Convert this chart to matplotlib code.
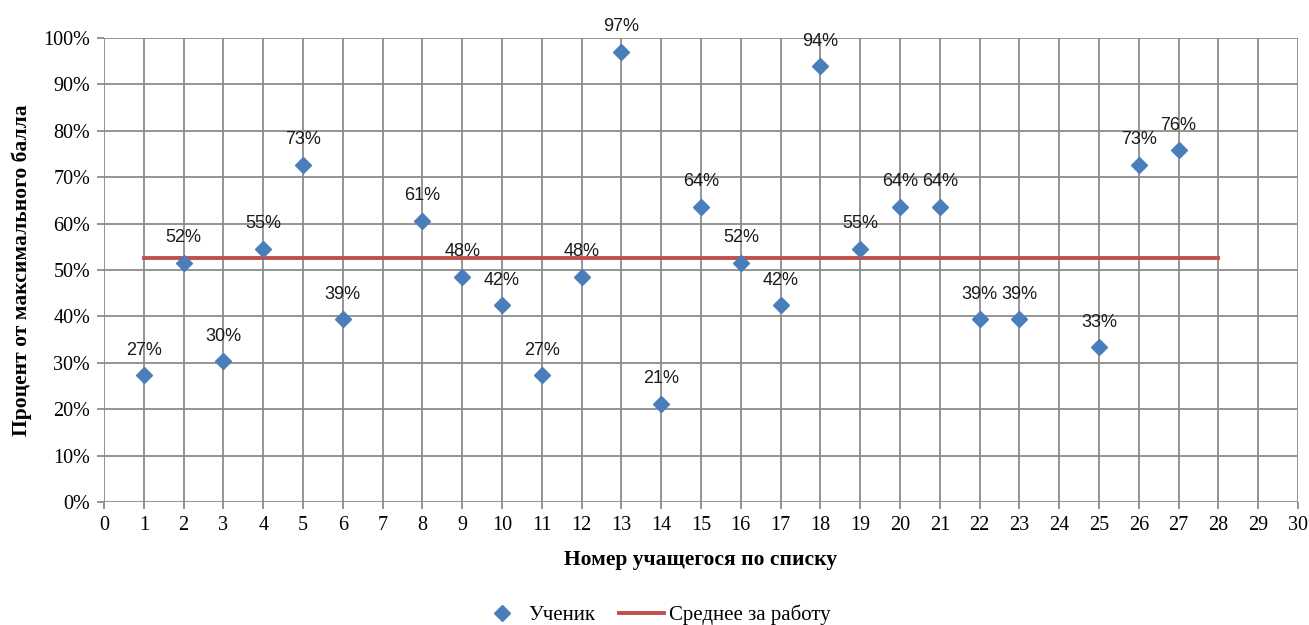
import matplotlib

matplotlib.use("Agg")
import matplotlib.pyplot as plt
from matplotlib.lines import Line2D
from matplotlib.ticker import MultipleLocator, PercentFormatter

# student numbers and share of the max score
students = [1, 2, 3, 4, 5, 6, 8, 9, 10, 11, 12, 13, 14, 15, 16, 17, 18, 19, 20, 21, 22, 23, 25, 26, 27]
scores = [0.273, 0.515, 0.303, 0.545, 0.727, 0.394, 0.606, 0.485, 0.424, 0.273, 0.485, 0.970, 0.212,
          0.636, 0.515, 0.424, 0.939, 0.545, 0.636, 0.636, 0.394, 0.394, 0.333, 0.727, 0.758]
labels = ["27%", "52%", "30%", "55%", "73%", "39%", "61%", "48%", "42%", "27%", "48%", "97%", "21%",
          "64%", "52%", "42%", "94%", "55%", "64%", "64%", "39%", "39%", "33%", "73%", "76%"]
mean_x = [1, 28]
mean_y = [0.526, 0.526]

BLUE = "#4A7EBB"
RED = "#C0504D"
GRID = "#8C8C8C"
SERIF = "Liberation Serif"
SANS = "Liberation Sans"

fig = plt.figure(figsize=(13.09, 6.25), dpi=100)
ax = fig.add_axes([0.0795, 0.1968, 0.9121, 0.7424])

ax.plot(mean_x, mean_y, color=RED, lw=2.8, zorder=3)
ax.plot(students, scores, linestyle="none", marker="D", ms=8.5, color=BLUE, zorder=4)

for x, y, t in zip(students, scores, labels):
    ax.annotate(t, (x, y), xytext=(0, 12), textcoords="offset points", ha="center", va="bottom",
                fontsize=13, family=SANS, color="#1a1a1a")

ax.set_xlim(0, 30)
ax.set_ylim(0, 1.0)
ax.xaxis.set_major_locator(MultipleLocator(1))
ax.yaxis.set_major_locator(MultipleLocator(0.1))
ax.yaxis.set_major_formatter(PercentFormatter(1.0, decimals=0))
ax.grid(True, color=GRID, lw=1.3)
ax.set_axisbelow(True)
for s in ax.spines.values():
    s.set_visible(False)
ax.tick_params(axis="both", length=5, width=1.3, color=GRID, labelsize=14.5, pad=5)
for lab in ax.get_xticklabels() + ax.get_yticklabels():
    lab.set_family(SERIF)

ax.set_xlabel("Номер учащегося по списку", fontsize=15.5, fontweight="bold", family=SERIF, labelpad=11)
ax.set_ylabel("Процент от максимального балла", fontsize=15.5, fontweight="bold", family=SERIF, labelpad=8)

handles = [
    Line2D([], [], linestyle="none", marker="D", ms=8, color=BLUE),
    Line2D([], [], color=RED, lw=2.8),
]
fig.legend(handles, ["Ученик", "Среднее за работу"], loc="lower center", bbox_to_anchor=(0.5, -0.03),
           ncol=2, frameon=False, prop={"family": SERIF, "size": 15}, handlelength=2.2,
           handletextpad=0.2, columnspacing=1.1)

fig.savefig("out.png", dpi=100)
